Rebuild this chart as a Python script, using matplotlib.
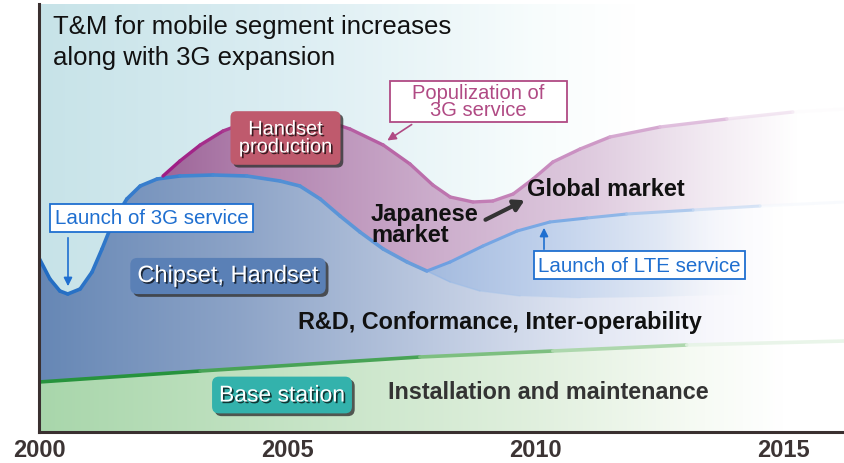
import numpy as np
import matplotlib
matplotlib.use('Agg')
import matplotlib.pyplot as plt
from matplotlib.patches import Polygon, Rectangle
from matplotlib.collections import LineCollection
import matplotlib.patheffects as pe

plt.rcParams['font.family'] = ['Liberation Sans', 'DejaVu Sans']

# --- data (year, relative level above the time axis) ---
ticks = [2000, 2005, 2010, 2015]
tick_labels = ['2000', '2005', '2010', '2015']

# chipset / handset envelope (blue), up to where LTE branches off
blue_x = [2000.00, 2000.22, 2000.42, 2000.58, 2000.83, 2001.07, 2001.27, 2001.49, 2001.77,
          2002.04, 2002.38, 2002.84, 2003.51, 2004.19, 2004.86, 2005.26, 2005.67, 2006.07,
          2006.47, 2006.94, 2007.42, 2007.82]
blue_y = [174, 153, 141, 138, 143, 160, 183, 210, 233,
          246, 253, 256, 257, 256, 251, 246, 233, 216,
          200, 183, 170, 161]

# bottom of the LTE band
low_x = [2007.82, 2008.29, 2008.89, 2009.70, 2010.91, 2012.32, 2013.73, 2014.94, 2016.25]
low_y = [161, 150, 141, 136, 134, 135, 137, 139, 141]

# LTE line (global market lower edge)
lte_x = [2007.82, 2008.29, 2008.95, 2009.64, 2010.30, 2011.05, 2011.85, 2013.19, 2014.54, 2016.25]
lte_y = [161, 170, 186, 201, 210, 214, 218, 222, 226, 230]

# handset production / market (magenta)
mag_x = [2002.50, 2002.84, 2003.25, 2003.71, 2004.25, 2004.96, 2005.67, 2006.27, 2006.94,
         2007.48, 2007.94, 2008.29, 2008.75, 2009.15, 2009.56, 2009.96, 2010.36, 2010.91,
         2011.51, 2012.52, 2013.87, 2015.20, 2016.25]
mag_y = [256, 271, 287, 301, 311, 316, 313, 303, 287,
         268, 247, 235, 230, 231, 238, 253, 270, 283,
         295, 305, 313, 320, 323]

# base station / installation (green)
green_x = [2000.00, 2003.25, 2007.68, 2010.36, 2013.06, 2016.25]
green_y = [50, 61, 75, 81, 87, 91]

X0, X1 = 2000.0, 2016.25
Y0, Y1 = 0, 428

fig = plt.figure(figsize=(8.45, 4.64), dpi=100)
ax = fig.add_axes([39/845, 31/464, (845-39)/845, 428/464])
ax.set_xlim(X0, X1)
ax.set_ylim(Y0, Y1)


def hgrad(stops):
    # stops: list of (x, (r,g,b,a)) -> 1xN rgba strip across the axes
    gx = np.linspace(X0, X1, 500)
    sx = [s[0] for s in stops]
    cols = np.array([s[1] for s in stops], dtype=float)
    img = np.zeros((1, gx.size, 4))
    for c in range(4):
        img[0, :, c] = np.interp(gx, sx, cols[:, c])
    return img


def grad_region(xs, ys, stops, z):
    poly = Polygon(np.column_stack([xs, ys]), closed=True, fc='none', ec='none')
    ax.add_patch(poly)
    im = ax.imshow(hgrad(stops), extent=[X0, X1, Y0, Y1], aspect='auto',
                   origin='lower', zorder=z, interpolation='bilinear')
    im.set_clip_path(poly)


def grad_line(xs, ys, stops, lw, z):
    pts = np.column_stack([xs, ys])
    segs = np.stack([pts[:-1], pts[1:]], axis=1)
    mid = (pts[:-1, 0] + pts[1:, 0]) / 2
    sx = [s[0] for s in stops]
    cols = np.array([s[1] for s in stops], dtype=float)
    c = np.column_stack([np.interp(mid, sx, cols[:, k]) for k in range(4)])
    ax.add_collection(LineCollection(segs, colors=c, linewidths=lw, zorder=z,
                                     capstyle='round', joinstyle='round'))


# background
grad_region([X0, X1, X1, X0], [Y0, Y0, Y1, Y1],
            [(2000, (0.78, 0.89, 0.91, 1)), (2005, (0.86, 0.93, 0.95, 1)),
             (2010, (0.97, 0.99, 0.99, 1)), (2012, (1, 1, 1, 1))], 0)

# blue (chipset + R&D) region: green line up to blue envelope / LTE line
top_x = blue_x + lte_x[1:]
top_y = blue_y + lte_y[1:]
grad_region(green_x + top_x[::-1], green_y + top_y[::-1],
            [(2000, (0.40, 0.53, 0.71, 1)), (2004, (0.55, 0.64, 0.78, 1)),
             (2008, (0.74, 0.79, 0.88, 1)), (2011, (0.88, 0.90, 0.95, 1)),
             (2013.5, (0.97, 0.97, 0.99, 1)), (2015, (1, 1, 1, 1))], 1)

# LTE band
grad_region(lte_x + low_x[::-1], lte_y + low_y[::-1],
            [(2007.8, (0.64, 0.73, 0.87, 1)), (2010, (0.74, 0.81, 0.92, 1)),
             (2012.5, (0.88, 0.91, 0.96, 1)), (2014.5, (1, 1, 1, 0))], 2)

# lavender (Japanese / global market) region
i_start = 10
bot_x = blue_x[i_start:] + lte_x[1:]
bot_y = blue_y[i_start:] + lte_y[1:]
grad_region(mag_x + bot_x[::-1], mag_y + bot_y[::-1],
            [(2002.5, (0.62, 0.40, 0.60, 1)), (2004.5, (0.70, 0.52, 0.69, 1)),
             (2008, (0.80, 0.68, 0.80, 1)), (2011, (0.87, 0.79, 0.87, 1)),
             (2013.5, (0.95, 0.92, 0.95, 1)), (2015.3, (1, 1, 1, 1))], 2)

# green region
grad_region([X0] + green_x + [X1], [Y0] + green_y + [Y0],
            [(2000, (0.66, 0.84, 0.67, 1)), (2005, (0.77, 0.89, 0.77, 1)),
             (2010, (0.88, 0.94, 0.87, 1)), (2013, (0.96, 0.98, 0.95, 1)),
             (2015, (1, 1, 1, 1))], 3)

# outline curves
grad_line(blue_x, blue_y, [(2000, (0.13, 0.42, 0.76, 1)), (2003, (0.25, 0.52, 0.82, 1)),
                           (2007.8, (0.42, 0.62, 0.86, 1))], 2.6, 4)
grad_line(low_x, low_y, [(2007.8, (0.55, 0.70, 0.90, 0.7)), (2010, (0.70, 0.80, 0.93, 0.25)),
                         (2012, (1, 1, 1, 0))], 1.0, 4)
grad_line(lte_x, lte_y, [(2007.8, (0.42, 0.62, 0.88, 1)), (2011, (0.50, 0.68, 0.90, 1)),
                         (2013.5, (0.75, 0.84, 0.95, 0.8)), (2016, (1, 1, 1, 0.3))], 2.2, 4)
grad_line(mag_x, mag_y, [(2002.5, (0.62, 0.10, 0.52, 1)), (2004, (0.66, 0.22, 0.56, 1)),
                         (2008, (0.74, 0.45, 0.68, 1)), (2011, (0.80, 0.58, 0.77, 1)),
                         (2013.5, (0.88, 0.75, 0.87, 0.9)), (2016, (1, 1, 1, 0.3))], 2.4, 4)
grad_line(green_x, green_y, [(2000, (0.10, 0.55, 0.20, 1)), (2006, (0.30, 0.65, 0.35, 1)),
                             (2010, (0.55, 0.78, 0.55, 1)), (2014, (0.85, 0.93, 0.85, 1)),
                             (2016, (1, 1, 1, 0.5))], 2.6, 4)

# axes styling
for s in ['top', 'right']:
    ax.spines[s].set_visible(False)
for s in ['left', 'bottom']:
    ax.spines[s].set_color('#3a3030')
    ax.spines[s].set_linewidth(2.2)
    ax.spines[s].set_zorder(6)
ax.set_yticks([])
ax.set_xticks(ticks)
ax.set_xticklabels(tick_labels, fontsize=17, fontweight='bold', color='#3c3434')
ax.tick_params(axis='x', direction='in', length=12, width=2, color='#3a3030', pad=4)
for t in ax.get_xticklines():
    t.set_zorder(7)

shadow = [pe.withSimplePatchShadow(offset=(1.2, -1.2), shadow_rgbFace='k', alpha=0.7)]


def level(py):
    return 433 - py


def year(px):
    return 2000 + (px - 39) / 49.6


# title
ax.text(year(53), level(15), 'T&M for mobile segment increases\nalong with 3G expansion',
        fontsize=18.5, color='#111111', va='top', ha='left', linespacing=1.38, zorder=8)

# coloured label boxes
def colour_box(px, py, txt, fc, size, ls=1.0, pad=0.35):
    t = ax.text(year(px), level(py), txt, fontsize=size, color='white', ha='center',
                va='center', linespacing=ls, zorder=9, path_effects=shadow,
                bbox=dict(boxstyle='round,pad=%s,rounding_size=0.3' % pad, fc=fc, ec='none'))
    t.get_bbox_patch().set_path_effects(
        [pe.SimplePatchShadow(offset=(2, -2), shadow_rgbFace='#333333', alpha=0.8), pe.Normal()])


colour_box(285.5, 139, 'Handset\nproduction', '#bf5a6d', 14.4, ls=0.92, pad=0.42)
colour_box(228, 277, 'Chipset, Handset', '#5a80b6', 17, pad=0.3)
colour_box(282, 396, 'Base station', '#33b2ac', 16.5, pad=0.3)

# white callout boxes
def callout(px, py, txt, col, size, ls=1.0, pad=0.25):
    ax.text(year(px), level(py), txt, fontsize=size, color=col, ha='center', va='center',
            linespacing=ls, zorder=9,
            bbox=dict(boxstyle='square,pad=%s' % pad, fc='white', ec=col, lw=1.3))


callout(151.5, 219, 'Launch of 3G service', '#1f6fd0', 14.8, pad=0.24)
callout(639.5, 266, 'Launch of LTE service', '#1f6fd0', 14.8, pad=0.22)

# populization callout: box is wider than its text
ax.add_patch(Rectangle((year(390), level(123)), year(567) - year(390), level(82) - level(123),
                       fc='white', ec='#b04a84', lw=1.3, zorder=8))
ax.text(year(478.5), level(102), 'Populization of\n3G service', fontsize=14.5, color='#b04a84',
        ha='center', va='center', linespacing=0.9, zorder=9)

# arrows
ax.annotate('', xy=(year(68), level(290)), xytext=(year(68), level(236)),
            arrowprops=dict(arrowstyle='-|>,head_length=0.5,head_width=0.25', color='#1f6fd0', lw=1.2),
            zorder=9)
ax.annotate('', xy=(year(385), level(143)), xytext=(year(414), level(124)),
            arrowprops=dict(arrowstyle='-|>,head_length=0.5,head_width=0.25', color='#b04a84', lw=1.2),
            zorder=9)
ax.annotate('', xy=(year(544), level(226)), xytext=(year(544), level(253)),
            arrowprops=dict(arrowstyle='-|>,head_length=0.5,head_width=0.25', color='#1f6fd0', lw=1.2),
            zorder=9)
ax.annotate('', xy=(year(527), level(200)), xytext=(year(483), level(222)),
            arrowprops=dict(arrowstyle='-|>,head_length=0.6,head_width=0.35', color='#333333', lw=3),
            zorder=9)

# plain labels
ax.text(year(527), level(190), 'Global market', fontsize=17, fontweight='bold',
        color='#111111', ha='left', va='center', zorder=9)
ax.text(year(371), level(225), 'Japanese\nmarket', fontsize=17, fontweight='bold',
        color='#111111', ha='left', va='center', linespacing=0.9, zorder=9)
ax.text(year(500), level(322), 'R&D, Conformance, Inter-operability', fontsize=16.8,
        fontweight='bold', color='#111111', ha='center', va='center', zorder=9)
ax.text(year(548), level(393), 'Installation and maintenance', fontsize=16.8,
        fontweight='bold', color='#333333', ha='center', va='center', zorder=9)

fig.savefig('out.png', dpi=100)
